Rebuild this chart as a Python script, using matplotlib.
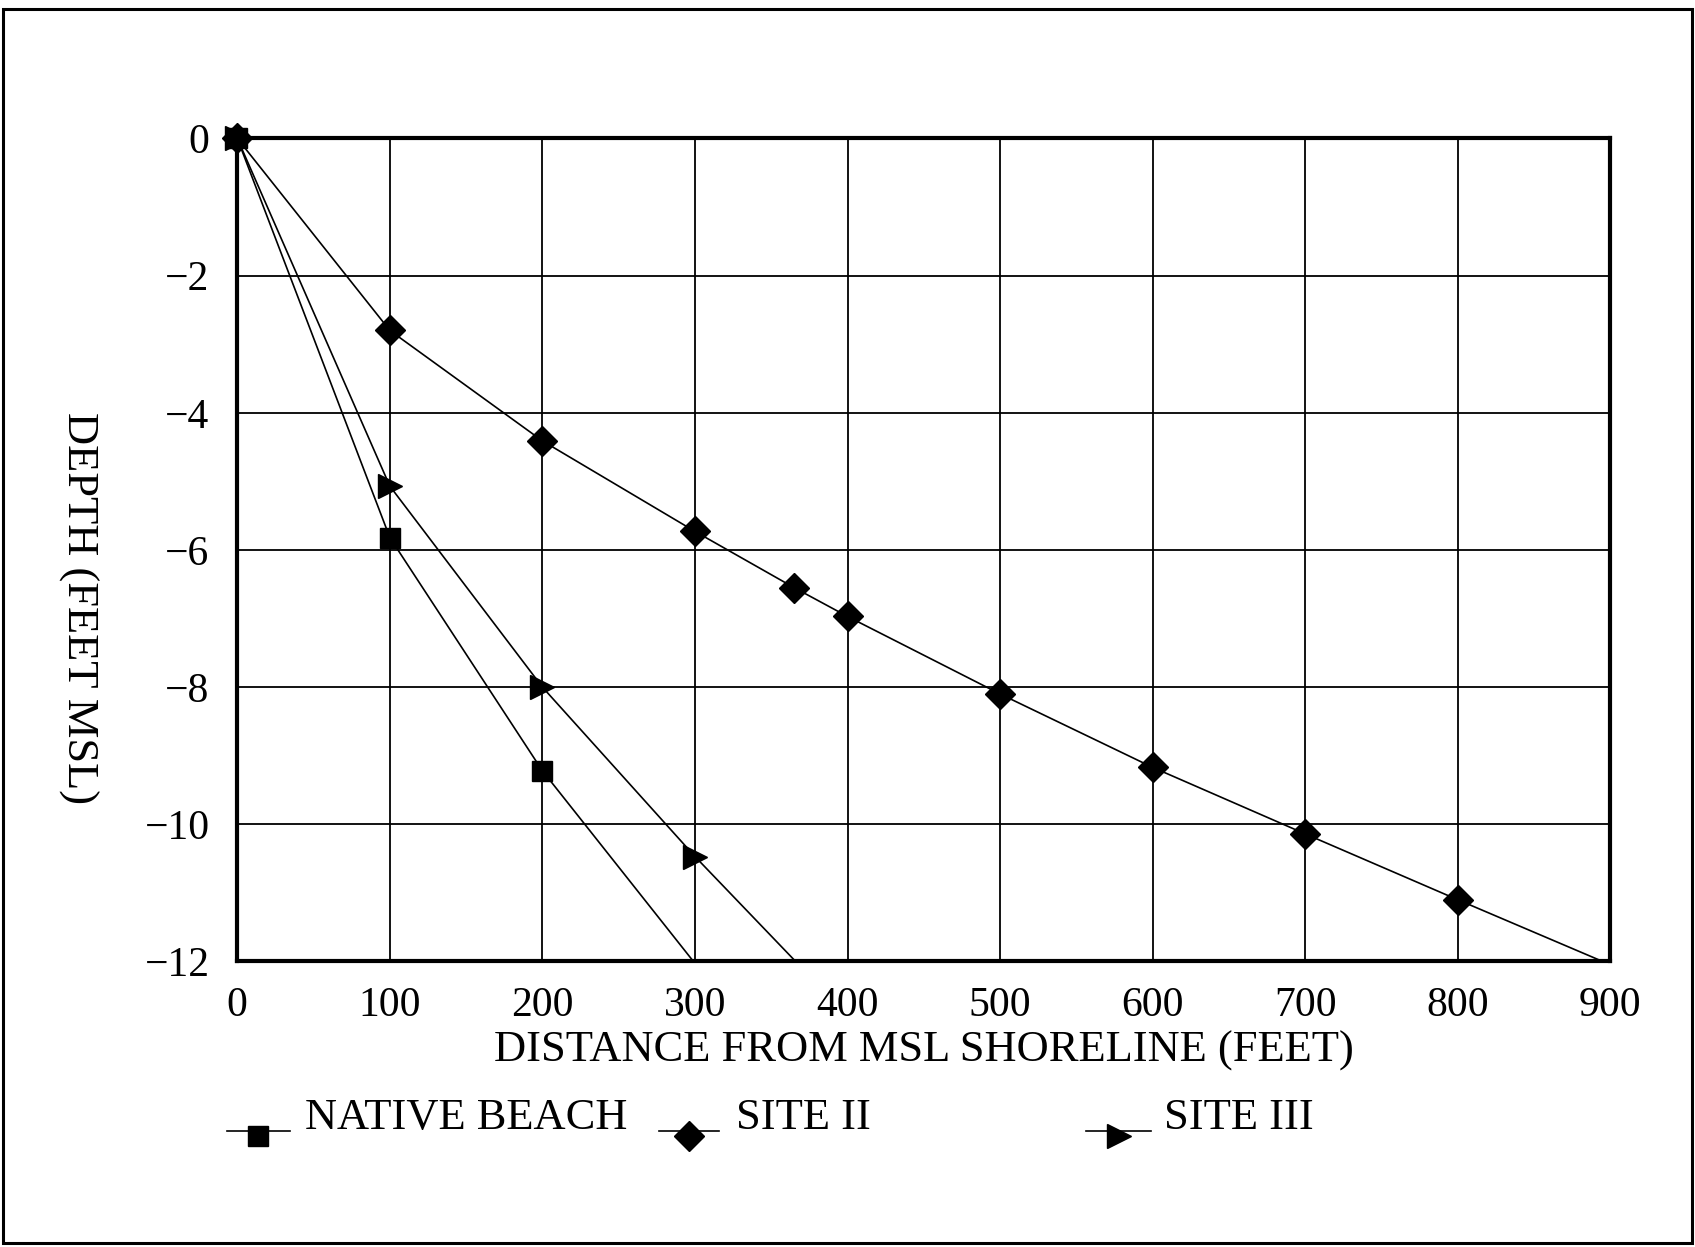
import numpy as np
import matplotlib
matplotlib.use("Agg")
import matplotlib.pyplot as plt
from matplotlib.lines import Line2D
from matplotlib.patches import Rectangle

plt.rcParams['font.family'] = ['Liberation Serif', 'DejaVu Serif']

# ---- data ----
native_x = [0, 100, 200, 299]
native_y = [0, -5.82, -9.22, -12.0]

site2_x = [0, 100, 200, 300, 365, 400, 500, 600, 700, 800, 895]
site2_y = [0, -2.80, -4.41, -5.73, -6.55, -6.97, -8.10, -9.17, -10.14, -11.10, -12.0]

site3_x = [0, 100, 200, 300, 366]
site3_y = [0, -5.07, -8.00, -10.47, -12.0]

x_ticks = [0, 100, 200, 300, 400, 500, 600, 700, 800, 900]
y_ticks = [0, -2, -4, -6, -8, -10, -12]
y_ticklabels = ['0', '\u22122', '\u22124', '\u22126', '\u22128', '\u221210', '\u221212']

legend_labels = ['NATIVE BEACH', 'SITE II', 'SITE III']

fig = plt.figure(figsize=(16.95, 12.47), dpi=100)
ax = fig.add_axes([0.140, 0.229, 0.810, 0.660])

series = [
    (site2_x, site2_y, 'D', 15, 3),
    (site3_x, site3_y, '>', 17, 3),
    (native_x, native_y, 's', 15, 5),
]
for xs, ys, mk, ms, z in series:
    xs = np.asarray(xs, float)
    ys = np.asarray(ys, float)
    ax.plot(xs, ys, color='black', lw=1.2, zorder=z, clip_on=True)
    # markers only at measured points (last point is where line meets the axis)
    ax.plot(xs[:-1], ys[:-1], linestyle='none', marker=mk, ms=ms,
            color='black', zorder=z + 1, clip_on=False)

ax.set_xlim(0, 900)
ax.set_ylim(-12, 0)
ax.set_xticks(x_ticks)
ax.set_yticks(y_ticks)
ax.set_yticklabels(y_ticklabels)
ax.grid(True, color='black', lw=1.3)
ax.set_axisbelow(True)
ax.tick_params(length=0, labelsize=30, pad=18)
ax.tick_params(axis='y', pad=20)
for s in ax.spines.values():
    s.set_linewidth(3.0)

ax.set_xlabel('DISTANCE FROM MSL SHORELINE (FEET)', fontsize=32, labelpad=4)
fig.text(0.046, 0.512, 'DEPTH (FEET MSL)', rotation=270, fontsize=32,
         ha='center', va='center')

# ---- legend (manual, irregular spacing as in the original) ----
leg_y = 0.093
leg_items = [
    ('s', 15, 0.134, 0.171, 0.180),
    ('D', 15, 0.389, 0.424, 0.434),
    ('>', 17, 0.641, 0.679, 0.687),
]
for (mk, ms, x0, x1, tx), lab in zip(leg_items, legend_labels):
    xm = (x0 + x1) / 2
    fig.add_artist(Line2D([x0, x1], [leg_y, leg_y], color='black', lw=1.2,
                          transform=fig.transFigure))
    fig.add_artist(Line2D([xm], [leg_y - 0.004], marker=mk, ms=ms, color='black',
                          linestyle='none', transform=fig.transFigure))
    fig.text(tx, leg_y + 0.002, lab, fontsize=32, ha='left', va='baseline')

# outer frame
fig.add_artist(Rectangle((0.002, 0.003), 0.996, 0.990, transform=fig.transFigure,
                         fill=False, edgecolor='black', lw=2.2))

fig.savefig('out.png', dpi=100)
